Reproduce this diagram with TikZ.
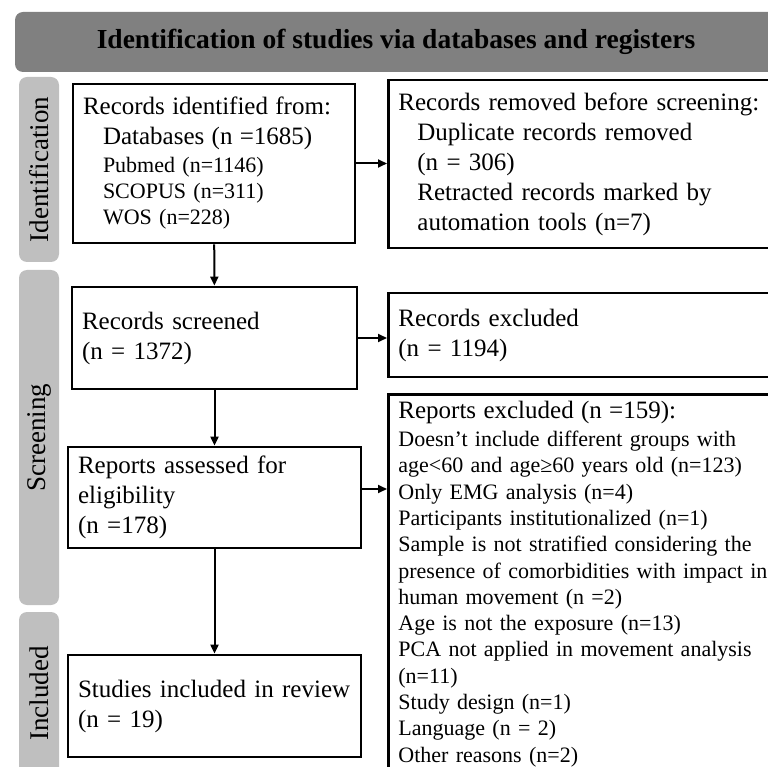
\documentclass[tikz,border=0pt]{standalone}
\usepackage{fontspec}
\setmainfont{Liberation Serif}
\usetikzlibrary{arrows.meta}
\newcommand{\bigline}[1]{{\fontsize{25}{26}\selectfont #1}}
\begin{document}
\begin{tikzpicture}[x=1pt,y=-1pt,
    box/.style={draw,line width=2.8pt,align=left,inner xsep=10pt,font=\fontsize{25}{30}\selectfont},
    side/.style={fill=gray!50,rounded corners=8pt,rotate=90,minimum height=40pt,font=\fontsize{27}{30}\selectfont},
    arr/.style={line width=2pt,-{Triangle[length=9pt,width=8pt]}}]
        \clip (0,0) rectangle (768,767);

        \node[fill=gray,rounded corners=8pt,minimum width=762pt,minimum height=60pt,
              font=\fontsize{27.5}{30}\selectfont\bfseries] (hd) at (396,42) {Identification of studies via databases and registers};

        \node[side,minimum width=185pt] (s1) at (39,169.5) {Identification};
        \node[side,minimum width=335pt] (s2) at (39,437.5) {Screening};
        \node[side,minimum width=163pt] (s3) at (39,693.5) {Included};

        \node[box,text width=262pt,minimum height=159pt,font=\fontsize{22}{26}\selectfont] (id) at (214,163.5)
            {\bigline{Records identified from:}\\[4pt]
             \hspace*{20pt}\bigline{Databases (n =1685)}\\[2pt]
             \hspace*{20pt}Pubmed (n=1146)\\
             \hspace*{20pt}SCOPUS (n=311)\\
             \hspace*{20pt}WOS (n=228)};
        \node[box,text width=400pt,minimum height=168pt,anchor=west] (rm) at (387,164)
            {Records removed before screening:\\
             \hspace*{19pt}Duplicate records removed\\
             \hspace*{19pt}(n = 306)\\
             \hspace*{19pt}Retracted records marked by\\
             \hspace*{19pt}automation tools (n=7)};

        \node[box,text width=265pt,minimum height=102pt] (sc) at (214.5,338) {Records screened\\(n = 1372)};
        \node[box,text width=400pt,minimum height=84pt,anchor=west] (ex) at (387,335) {Records excluded\\(n = 1194)};

        \node[box,text width=273pt,minimum height=101pt] (as) at (214.5,497.5) {Reports assessed for\\eligibility\\(n =178)};
        \node[box,text width=400pt,inner ysep=7pt,anchor=north west,font=\fontsize{22}{26.3}\selectfont] (rx) at (387,393)
            {\bigline{Reports excluded (n =159):}\\[1.5pt]
             Doesn’t include different groups with\\
             age<60 and age≥60 years old (n=123)\\
             Only EMG analysis (n=4)\\
             Participants institutionalized (n=1)\\
             Sample is not stratified considering the\\
             presence of comorbidities with impact in\\
             human movement (n =2)\\
             Age is not the exposure (n=13)\\
             PCA not applied in movement analysis\\
             (n=11)\\
             Study design (n=1)\\
             Language (n = 2)\\
             Other reasons (n=2)};

        \node[box,text width=273pt,minimum height=102pt] (st) at (214.5,706) {Studies included in review\\(n = 19)};

        \draw[arr] (id) -- (sc);
        \draw[arr] (sc) -- (as);
        \draw[arr] (as) -- (st);
        \draw[arr] (id.east) -- (id.east -| rm.west);
        \draw[arr] (sc.east) -- (sc.east -| ex.west);
        \draw[arr] ([yshift=8.5pt]as.east) -- ([yshift=8.5pt]as.east -| rx.west);
\end{tikzpicture}
\end{document}
